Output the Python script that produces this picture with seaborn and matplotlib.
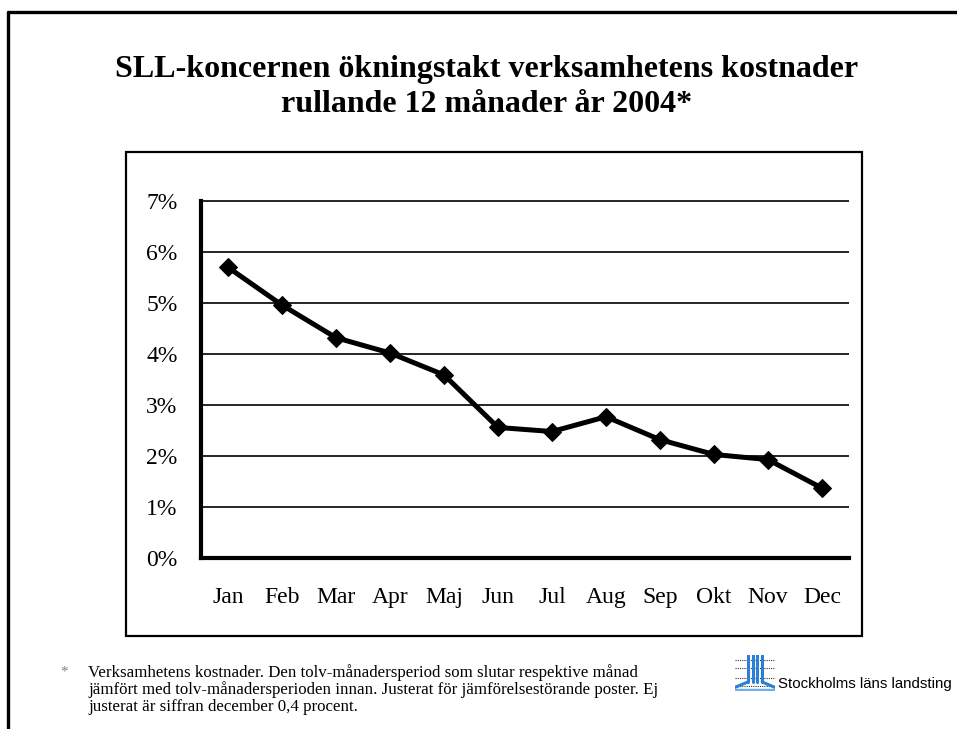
import matplotlib
matplotlib.use("Agg")
import pandas as pd
import seaborn as sns
import matplotlib.pyplot as plt
from matplotlib.patches import Rectangle
from matplotlib.lines import Line2D

# data (percent)
manader = ["Jan", "Feb", "Mar", "Apr", "Maj", "Jun",
           "Jul", "Aug", "Sep", "Okt", "Nov", "Dec"]
okning = [5.70, 4.96, 4.32, 4.02, 3.59, 2.56,
          2.48, 2.77, 2.32, 2.03, 1.93, 1.37]
yticks = [0, 1, 2, 3, 4, 5, 6, 7]

df = pd.DataFrame({"manad": manader, "okning": okning})

sns.set_theme(style="white")
plt.rcParams["font.family"] = ["Liberation Serif", "DejaVu Serif"]
plt.rcParams["text.color"] = "black"

fig = plt.figure(figsize=(9.57, 7.29), dpi=100)
W, H = 957, 729

# axes placed in pixel terms
x0, x1 = 201, 849
y0, y1 = 558, 199
ax = fig.add_axes([x0 / W, 1 - y0 / H, (x1 - x0) / W, (y0 - y1) / H])

sns.lineplot(data=df, x="manad", y="okning", ax=ax, sort=False,
             color="black", linewidth=3.6, marker="D", markersize=9.5,
             markeredgecolor="black", markerfacecolor="black")

ax.set_xlim(-0.5, 11.5)
ax.set_ylim(0, 7.04)
ax.set_yticks(yticks)
ax.set_yticklabels([f"{t}%" for t in yticks])
ax.set_xlabel("")
ax.set_ylabel("")
for t in yticks[1:]:
    ax.axhline(t, color="black", lw=1.2, zorder=0)

ax.spines["top"].set_visible(False)
ax.spines["right"].set_visible(False)
ax.spines["left"].set_linewidth(3)
ax.spines["bottom"].set_linewidth(3)
ax.spines["left"].set_color("black")
ax.spines["bottom"].set_color("black")
ax.spines["left"].set_bounds(0, 7)
ax.tick_params(axis="y", length=0, pad=17, labelsize=17, colors="black")
ax.tick_params(axis="x", length=0, pad=21, labelsize=17, colors="black")

# inner chart box
fig.patches.append(Rectangle((126 / W, 1 - 636 / H), 736 / W, 484 / H,
                             transform=fig.transFigure, fill=False,
                             edgecolor="black", lw=1.6, zorder=0))
# outer frame (top and left)
fig.lines.append(Line2D([8 / W, 1], [1 - 12 / H, 1 - 12 / H],
                        transform=fig.transFigure, color="black", lw=2.4))
fig.lines.append(Line2D([8 / W, 8 / W], [0, 1 - 12 / H],
                        transform=fig.transFigure, color="black", lw=2.4))

# title
fig.text(487 / W, 1 - 69 / H, "SLL-koncernen ökningstakt verksamhetens kostnader",
         ha="center", va="center", fontsize=23, fontweight="bold")
fig.text(487 / W, 1 - 104 / H, "rullande 12 månader år 2004*",
         ha="center", va="center", fontsize=23, fontweight="bold")

# footnote
fig.text(60 / W, 1 - 672 / H, "*", ha="left", va="center", fontsize=11,
         color="#808080")
fot = ["Verksamhetens kostnader. Den tolv-månadersperiod som slutar respektive månad",
       "jämfört med tolv-månadersperioden innan. Justerat för jämförelsestörande poster. Ej",
       "justerat är siffran december 0,4 procent."]
for i, rad in enumerate(fot):
    fig.text(88 / W, 1 - (673 + 17 * i) / H, rad, ha="left", va="center",
             fontsize=12.2)

# small logo
lax = fig.add_axes([735 / W, 1 - 691 / H, 40 / W, 36 / H])
lax.set_xlim(0, 10)
lax.set_ylim(0, 10)
lax.axis("off")
for yy in [8.5, 6.5, 3.5, 1.5]:
    lax.plot([0, 10], [yy, yy], color="#333333", lw=0.8, ls=(0, (1, 1)))
for xx in [3.2, 4.4, 5.6, 6.8]:
    lax.plot([xx, xx], [2.5, 10], color="#2a7fd8", lw=2.2)
lax.plot([0, 3.2], [1.0, 2.5], color="#2a7fd8", lw=2.2)
lax.plot([6.8, 10], [2.5, 1.0], color="#2a7fd8", lw=2.2)
lax.plot([0, 10], [0.3, 0.3], color="#6cb0f0", lw=2.5)
fig.text(778 / W, 1 - 684 / H, "Stockholms läns landsting", ha="left",
         va="center", fontsize=10.8, family="Liberation Sans")

fig.savefig("out.png", dpi=100, facecolor="white")
